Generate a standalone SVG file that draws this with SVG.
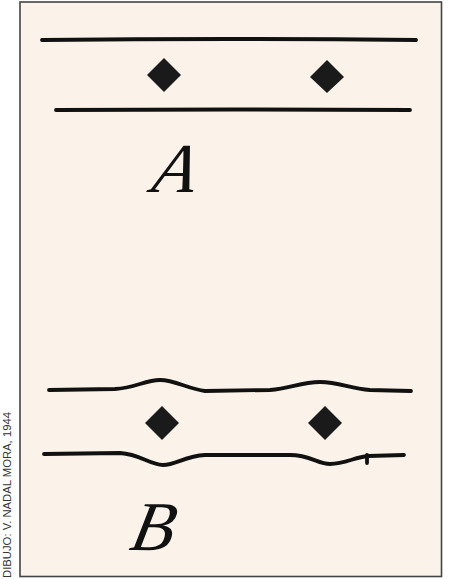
<svg xmlns="http://www.w3.org/2000/svg" width="460" height="579" viewBox="0 0 460 579">
  <defs>
    <style>
      .ln { fill: none; stroke: #111; stroke-width: 3.8; stroke-linecap: round; stroke-linejoin: round; }
      .dm { fill: #1a1a1a; }
      .lt { font-family: "Liberation Serif", "DejaVu Serif", serif; font-style: italic; font-size: 70px; fill: #111; }
      .cr { font-family: "Liberation Sans", Arial, sans-serif; font-size: 11px; fill: #333; }
    </style>
  </defs>
  <rect x="0" y="0" width="460" height="579" fill="#ffffff"/>
  <rect x="20" y="2" width="421.5" height="574.5" fill="#fbf3ea" stroke="#444" stroke-width="1.6"/>

  <g id="figA">
    <g id="connectorsA">
      <path class="ln" d="M42 40 Q230 38 416 40"/>
      <path class="ln" d="M56 110 Q230 109 410 110"/>
    </g>
    <g id="A-diamond-1"><path class="dm" d="M164 58 L181 75 L164 92 L147 75 Z"/></g>
    <g id="A-diamond-2"><path class="dm" d="M327 60 L344 77 L327 93 L310 77 Z"/></g>
    <g id="A-label"><text class="lt" transform="translate(150 192) skewX(-12)" x="0" y="0">A</text></g>
  </g>

  <g id="figB">
    <g id="connectorsB">
      <path class="ln" d="M49 390 L115 389 C135 388 145 380 160 380 C175 380 188 389 205 391 L270 390 C290 389 300 382 320 382 C340 382 350 389 370 390 L411 391"/>
      <path class="ln" d="M44 454 L120 453 C140 454 150 465 163 465 C176 465 185 456 205 455 L290 455 C310 455 318 464 330 464 C345 464 355 457 368 456 L404 455"/>
      <path class="ln" d="M367 455 L367 463" stroke-width="2.6"/>
    </g>
    <g id="B-diamond-1"><path class="dm" d="M162 406 L179 423 L162 440 L145 423 Z"/></g>
    <g id="B-diamond-2"><path class="dm" d="M325 406 L342 423 L325 440 L308 423 Z"/></g>
    <g id="B-label"><text class="lt" transform="translate(128 550) skewX(-12)" x="0" y="0">B</text></g>
  </g>

  <text class="cr" transform="translate(11 578) rotate(-90)" textLength="166" lengthAdjust="spacingAndGlyphs">DIBUJO: V. NADAL MORA, 1944</text>
</svg>
